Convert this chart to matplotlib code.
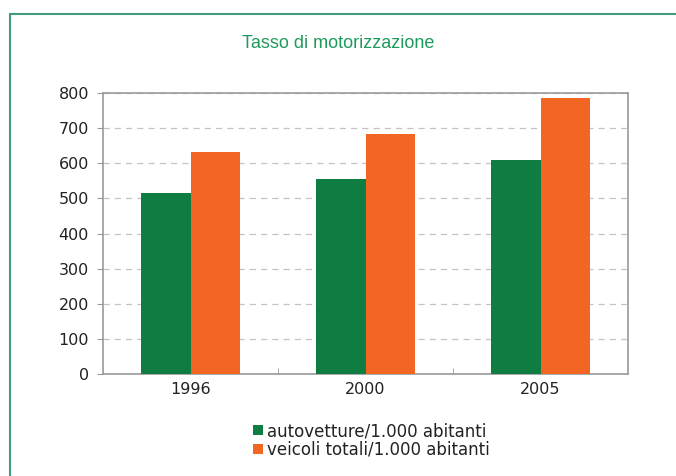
import matplotlib

matplotlib.use("Agg")
import matplotlib.pyplot as plt
from matplotlib.patches import Rectangle

years = ["1996", "2000", "2005"]
autovetture = [515, 554, 610]
veicoli_totali = [631, 683, 787]
series_labels = ["autovetture/1.000 abitanti", "veicoli totali/1.000 abitanti"]
y_ticks = [0, 100, 200, 300, 400, 500, 600, 700, 800]

GREEN = "#0f7d41"
ORANGE = "#f26522"
TITLE_GREEN = "#1f9a5c"
FRAME_GREEN = "#3f9c7c"
TEXT = "#222222"

plt.rcParams["font.family"] = ["DejaVu Sans"]

W, H = 676, 476
fig = plt.figure(figsize=(W / 100, H / 100), dpi=100)
fig.patch.set_facecolor("white")

# outer frame, open on the right and bottom edges
fig.patches.append(
    Rectangle((10 / W, -0.1), 1.2, 1.1 - 14 / H, transform=fig.transFigure,
              fill=False, edgecolor=FRAME_GREEN, linewidth=1.5)
)

ax = fig.add_axes([103 / W, 1 - 374 / H, (628 - 103) / W, (374 - 93) / H])

x = range(len(years))
width = 0.285
ax.bar([i - width / 2 for i in x], autovetture, width, color=GREEN,
       label=series_labels[0], zorder=3)
ax.bar([i + width / 2 for i in x], veicoli_totali, width, color=ORANGE,
       label=series_labels[1], zorder=3)

ax.set_xlim(-0.5, len(years) - 0.5)
ax.set_ylim(0, 800)
ax.set_yticks(y_ticks)
ax.set_xticks(list(x))
ax.set_xticklabels(years)
ax.set_xticks([0.5, 1.5], minor=True)
ax.tick_params(axis="x", which="major", length=0, pad=6, labelsize=11.5, colors=TEXT)
ax.tick_params(axis="x", which="minor", length=4, direction="in", color="#999999")
ax.tick_params(axis="y", length=4, color="#999999", pad=6, labelsize=11.5, labelcolor=TEXT)

ax.yaxis.grid(True, linestyle=(0, (5, 4)), color="#c4c4c4", linewidth=0.9, zorder=0)
for spine in ax.spines.values():
    spine.set_color("#9a9a9a")
    spine.set_linewidth(1.2)

fig.text(338 / W, 1 - 44 / H, "Tasso di motorizzazione", ha="center", va="center",
         fontsize=13, color=TITLE_GREEN, family="Liberation Sans")

fig.legend(loc="upper left", bbox_to_anchor=(245 / W, 1 - 414 / H), frameon=False,
           prop={"family": "DejaVu Sans", "size": 12},
           handlelength=0.55, handleheight=0.55, handletextpad=0.25,
           labelspacing=0.02, borderpad=0, labelcolor=TEXT)

fig.savefig("out.png", dpi=100)
